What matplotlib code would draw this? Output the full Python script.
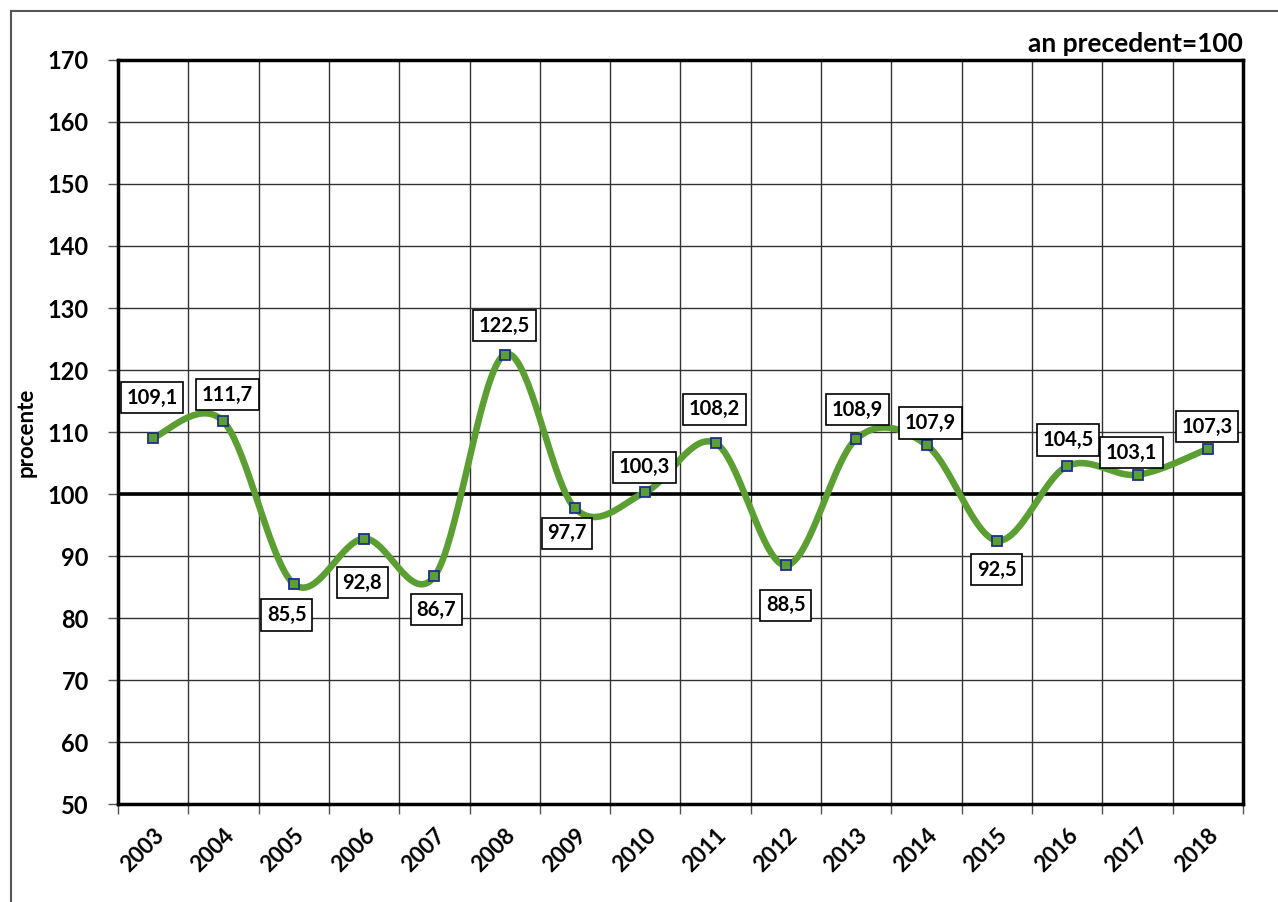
import matplotlib as mpl
mpl.use('Agg')
import matplotlib.pyplot as plt
import numpy as np

years = ['2003', '2004', '2005', '2006', '2007', '2008', '2009', '2010',
         '2011', '2012', '2013', '2014', '2015', '2016', '2017', '2018']
values = [109.1, 111.7, 85.5, 92.8, 86.7, 122.5, 97.7, 100.3,
          108.2, 88.5, 108.9, 107.9, 92.5, 104.5, 103.1, 107.3]
labels = ['109,1', '111,7', '85,5', '92,8', '86,7', '122,5', '97,7', '100,3',
          '108,2', '88,5', '108,9', '107,9', '92,5', '104,5', '103,1', '107,3']
# label offsets in pixels (dx, dy)
offsets = [(-1, 40), (4, 27), (-7, -31), (-2, -44), (2, -33), (0, 29), (-8, -25), (-1, 25),
           (-1, 34), (0, -40), (1, 29), (4, 22), (0, -29), (1, 26), (-6, 22), (-1, 22)]

plt.rcParams['font.family'] = ['Lato', 'DejaVu Sans']
plt.rcParams['font.weight'] = 'bold'

green = '#5b9e31'

def smooth(x, y, n=40):
    # Bezier smoothing through points (like spreadsheet smoothed lines)
    x = np.asarray(x, float)
    y = np.asarray(y, float)
    px = np.concatenate([[x[0]], x, [x[-1]]])
    py = np.concatenate([[y[0]], y, [y[-1]]])
    xs, ys = [], []
    t = np.linspace(0, 1, n)
    for i in range(len(x) - 1):
        p0 = np.array([x[i], y[i]])
        p3 = np.array([x[i + 1], y[i + 1]])
        p1 = p0 + (np.array([px[i + 2], py[i + 2]]) - np.array([px[i], py[i]])) / 6
        p2 = p3 - (np.array([px[i + 3], py[i + 3]]) - np.array([px[i + 1], py[i + 1]])) / 6
        b = ((1 - t) ** 3)[:, None] * p0 + (3 * (1 - t) ** 2 * t)[:, None] * p1 \
            + (3 * (1 - t) * t ** 2)[:, None] * p2 + (t ** 3)[:, None] * p3
        xs.extend(b[:, 0])
        ys.extend(b[:, 1])
    return np.array(xs), np.array(ys)

fig = plt.figure(figsize=(12.78, 9.02), dpi=100)
ax = fig.add_axes([0.0923, 0.1086, 0.8803, 0.8249])

x = np.arange(len(years))
sx, sy = smooth(x, values)
ax.plot(sx, sy, color=green, lw=4.7, solid_capstyle='round', zorder=3)
ax.plot(x, values, 's', ms=6.5, mfc=green, mec='#1f2f8f', mew=1.3, zorder=4)
ax.axhline(100, color='black', lw=2.6, zorder=2)

for xi, v, lab, (dx, dy) in zip(x, values, labels, offsets):
    ax.annotate(lab, (xi, v), xytext=(dx, dy), textcoords='offset pixels',
                ha='center', va='center', fontsize=14.5, fontweight='bold',
                bbox=dict(boxstyle='square,pad=0.28', fc='white', ec='black', lw=1.2),
                zorder=5)

ax.set_xlim(-0.5, len(years) - 0.5)
ax.set_ylim(50, 170)
ax.set_yticks(np.arange(50, 171, 10))
ax.set_xticks(np.arange(len(years) + 1) - 0.5)
ax.set_xticklabels([])
ax.set_xticks(x, minor=True)
ax.set_xticklabels(years, minor=True, rotation=45, ha='right', va='top',
                   rotation_mode='anchor', fontsize=16, fontweight='bold')
ax.tick_params(axis='x', which='minor', length=0, pad=15)
ax.tick_params(axis='x', which='major', length=7, width=1, color='#555555')
ax.tick_params(axis='y', length=7, width=1, color='#555555', labelsize=17, pad=14)
for t in ax.get_yticklabels():
    t.set_fontweight('bold')
ax.grid(True, which='major', color='#333333', lw=1)
ax.set_axisbelow(True)
for s in ax.spines.values():
    s.set_linewidth(2.5)
    s.set_color('black')

ax.set_ylabel('procente', fontsize=16, fontweight='bold', labelpad=8)
ax.text(1.0, 1.005, 'an precedent=100', transform=ax.transAxes, ha='right',
        va='bottom', fontsize=19, fontweight='bold')

# outer frame (left and top)
fig.add_artist(plt.Line2D([0.0085, 0.0085], [0, 0.988], color='#555555', lw=1.5))
fig.add_artist(plt.Line2D([0.0085, 1.0], [0.988, 0.988], color='#555555', lw=1.5))

plt.savefig('out.png', dpi=100)
plt.close()
